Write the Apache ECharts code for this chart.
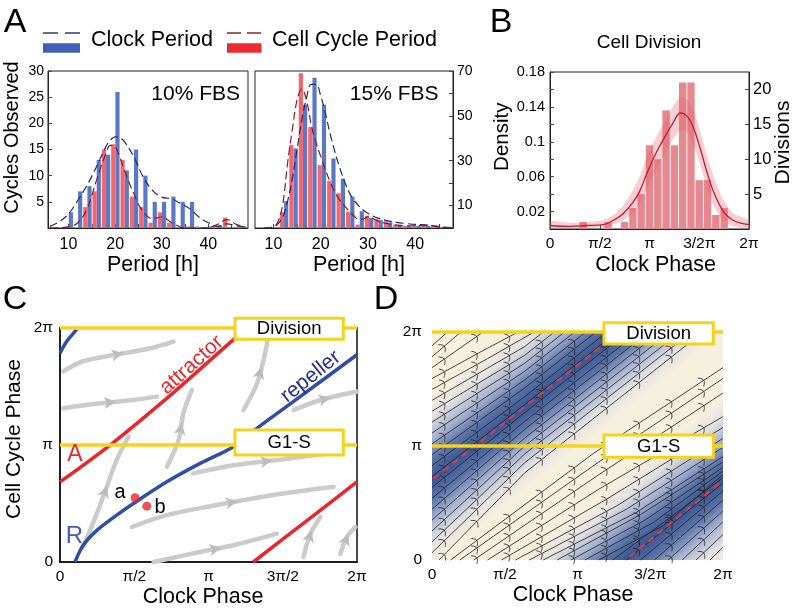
<!DOCTYPE html>
<html><head><meta charset="utf-8">
<script src="https://cdn.jsdelivr.net/npm/echarts@6/dist/echarts.min.js"></script>
<style>html,body{margin:0;padding:0;background:#fff}#c{width:796px;height:611px}</style>
</head><body><div id="c"></div>
<script>
// ================= DATA =================
const PI = Math.PI;
// Panel A, 10% FBS
const clockBins10 = [10.5,12.5,14.5,16.5,18.5,20.5,22.5,24.5,26.5,28.5,30.5,32.5,34.5,36.5,38.5,40.5,42.5];
const clock10     = [3,7,8,13,14,26,11,15,10,5,5,6,5,5,0,0.3,0.5];
const cycleBins10 = [9.6,11.6,13.6,15.6,17.6,19.6,21.6,23.6,25.6,27.6,29.6,31.6,33.6,35.6,37.6,39.6,41.6,43.6];
const cycle10     = [0.3,0,4,7,15,16,13,6,4,1,3,1,0,0.3,0.3,0,0,2];
const curveX10      = [6,8,10,12,14,16,18,19,20,21,22,24,26,28,30,32,34,36,38,40,42,44,46,48];
const clockCurve10  = [0.3,1.2,2.7,5.3,8.2,11.7,15.5,16.8,17.4,17.2,16.5,13.6,9.8,7.2,5.9,5.6,4.7,3.7,2.1,1.0,0.3,0.8,0.4,0.2];
const cycleCurve10  = [0,0.05,0.2,1,3.7,9.1,14.2,15.8,15.5,13.5,11,6.6,3.1,1.8,2.1,1.1,0.2,0,0,0.1,0.7,1.6,0.7,0.2];
// Panel A, 15% FBS
const clockBins15 = [12.7,14.7,16.7,18.7,20.7,22.7,24.7,26.7,28.7,30.7,32.7,34.7,36.7,38.7,40.7,42.7,44.7];
const clock15     = [12,35.5,55,67,55,31,22,14,7.5,4.5,3.5,2.5,1.5,1,1,1,0.5];
const cycleBins15 = [11.8,13.8,15.8,17.8,19.8,21.8,23.8,25.8,27.8,29.8,31.8,33.8,35.8,37.8,39.8,41.8,43.8];
const cycle15     = [7,37,69,45,28,21,15.5,7.3,1.5,5.5,4,3,1.5,1,1,1.5,0.5];
const curveX15     = [8,10,11,12,13,14,15,16,17,18,19,20,21,22,23,24,25,26,27,28,29,30,32,34,36,38,40,42,44,46,48];
const clockCurve15 = [0,0.5,2,5,12,22,35,48,58,64,64,59,51,42,34,27,21,16,12.5,10,8,6.5,4.5,3.3,2.5,2,1.6,1.4,1,0.4,0.2];
const cycleCurve15 = [0,0.5,3,11,29,44,57,62,57,46,38,32,26,20.5,16,12.5,10,7.5,5.5,4,4,5,3.2,2,1.3,1,1,1.2,0.8,0.3,0.1];
// Panel B
const divisionPhase  = [1.047,1.833,2.356,2.618,2.880,3.142,3.403,3.665,3.927,4.189,4.451,4.712,4.974,5.236,5.498];
const divisionCounts = [1,1,1,3,5,12,10,17,12,21,21,7,7,2,3];
const densityPhase = [0,0.63,1.16,1.68,2.0,2.31,2.63,2.84,3.05,3.36,3.68,3.89,4.12,4.31,4.52,4.73,4.94,5.15,5.46,5.78,6.28];
const densityMean  = [0.004,0.003,0.004,0.005,0.010,0.0175,0.031,0.044,0.063,0.088,0.109,0.122,0.133,0.130,0.117,0.094,0.067,0.044,0.021,0.010,0.005];
const densityUpper = [0.009,0.007,0.008,0.010,0.016,0.027,0.045,0.061,0.082,0.106,0.127,0.141,0.151,0.149,0.137,0.114,0.086,0.062,0.034,0.018,0.010];
const densityLower = [0.001,0.001,0.001,0.002,0.005,0.010,0.019,0.029,0.045,0.068,0.090,0.103,0.114,0.112,0.098,0.075,0.049,0.028,0.010,0.003,0.001];
// Tick labels
const countTicks10 = [5,10,15,20,25,30];
const countTicks15 = [10,30,50,70];
const periodTicks  = [10,20,30,40];
const densityTicks = [0.02,0.06,0.1,0.14,0.18];
const divisionTicks = [5,10,15,20];
const phaseTicks = [0, PI/2, PI, 1.5*PI, 2*PI];
const phaseLabelsBD = ['0','π/2','π','3/2π','2π'];
const phaseLabelsC  = ['0','π/2','π','3π/2','2π'];
const cellTicks = [0, PI, 2*PI];
const cellLabels = ['0','π','2π'];
// Panel C
const attractorC1 = [[0,2.15],[1.06,3.14],[2.4,4.55],[3.67,5.97],[3.97,6.283]];
const attractorC2 = [[4.09,0],[5.19,1.08],[6.283,2.15]];
const repellerC1 = [[0.318,0],[0.49,0.45],[0.78,0.85],[1.2,1.26],[1.553,1.571],[2.26,2.154],[2.965,2.648],[3.67,3.097],[4.165,3.59],[5.08,4.44],[6.283,5.565]];
const repellerC2 = [[0,5.61],[0.14,5.92],[0.353,6.24]];
const checkpointLevels = [PI, 2*PI];
const pointsAB = [[1.588,1.724],[1.836,1.5]];
const grayStreamsC = [
  [[0.07,5.12],[0.49,5.39],[1.2,5.57],[1.91,5.74],[2.4,5.92]],
  [[0.07,4.13],[0.85,4.26],[1.55,4.35],[2.05,4.44]],
  [[0.49,0.40],[0.78,1.30],[0.99,2.02],[1.2,2.74],[1.45,3.37]],
  [[2.26,2.56],[2.51,3.28],[2.61,3.99],[2.79,4.62]],
  [[3.88,4.08],[4.17,4.8],[4.34,5.61],[4.41,6.15]],
  [[2.82,2.38],[3.67,2.6],[4.73,2.76],[5.93,2.96]],
  [[1.52,0.94],[2.26,1.26],[3.32,1.53],[4.52,1.8],[5.79,2.02]],
  [[1.98,0],[2.96,0.27],[3.67,0.45],[4.59,0.76]],
  [[4.94,4.08],[5.51,4.35],[6.28,4.58]],
  [[5.15,0.13],[5.3,0.76],[5.51,1.21]],
  [[5.93,0.22],[6.07,0.67],[6.25,0.94]]
];
// Panel D
const attractorD1 = [[0.04,2.25],[3.66,5.89]];
const attractorD2 = [[4.27,0.09],[6.21,2.12]];
const bandHalfWidthD = 2.3;
const streamsD = [
  [[0,0.2],[2,2.68],[5.6,6.28]],[[0,0.5],[2,2.92],[5.36,6.28]],[[0,0.8],[2,3.14],[5.14,6.28]],
  [[0,1.1],[2,3.36],[4.92,6.28]],[[0,1.4],[2,3.6],[4.68,6.28]],[[0,1.7],[2,3.82],[4.46,6.28]],
  [[0,2.0],[2,4.06],[4.22,6.28]],[[0,2.3],[2,4.28],[4.0,6.28]],[[0,2.6],[2,4.5],[3.78,6.28]],
  [[0,2.9],[2,4.74],[3.54,6.28]],[[0,3.2],[2,4.96],[3.32,6.28]],[[0,3.5],[2,5.2],[3.08,6.28]],
  [[0,3.8],[2,5.42],[2.86,6.28]],[[0,4.1],[2,5.64],[2.64,6.28]],[[0,4.4],[2,5.88],[2.4,6.28]],
  [[0,4.7],[1.2,5.55],[2.2,6.28]],[[0,5.0],[1.0,5.7],[1.85,6.28]],[[0,5.3],[1.1,6.28]],
  [[0,5.6],[0.62,6.28]],[[0,5.9],[0.33,6.28]],
  [[0.15,0],[2,2.4],[5.85,6.28]],[[0.4,0],[3.5,2.95],[6.28,5.3]],[[0.6,0],[3.6,2.7],[6.28,5.0]],
  [[0.9,0],[3.6,2.35],[6.28,4.6]],[[1.2,0],[3.6,1.95],[6.28,3.95]],[[1.5,0],[3.8,1.7],[6.28,3.65]],
  [[1.8,0],[4.0,1.5],[6.28,3.35]],[[2.1,0],[4.2,1.4],[6.28,3.1]],[[2.4,0],[4.4,1.3],[6.28,2.85]],
  [[2.7,0],[4.5,1.25],[6.28,2.7]],[[3.0,0],[4.6,1.1],[6.28,2.55]],[[3.3,0],[4.8,1.05],[6.28,2.45]],
  [[3.6,0],[5.0,0.95],[6.28,2.35]],[[3.9,0],[5.1,1.13],[6.28,2.27]],[[4.2,0],[6.28,2.12]],
  [[4.5,0],[6.28,1.9]],[[4.8,0],[6.28,1.65]],[[5.1,0],[6.28,1.35]],[[5.4,0],[6.28,1.05]],
  [[5.7,0],[6.28,0.7]],[[6.0,0],[6.28,0.35]]
];

// ================= STYLE / HELPERS =================
const FONT = '"Liberation Sans", Arial, Helvetica, sans-serif';
const zip = (xs, ys) => xs.map((x, i) => [x, ys[i]]);
const labeler = (ticks, labels) => v => { let b = 0; ticks.forEach((t, i) => { if (Math.abs(t - v) < Math.abs(ticks[b] - v)) b = i; }); return labels[b]; };
const chevronCols = [0.25,0.95,1.65,2.35,3.05,3.75,4.45,5.15,5.85];
const YELLOW = '#f4d31c';
const creamD = '#f6f0de';

function clipPoly(pts, r) {
  const planes = [[0, r[0], 1], [0, r[2], -1], [1, r[1], 1], [1, r[3], -1]];
  let out = pts;
  for (const [ax, v, s] of planes) {
    const inp = out; out = [];
    for (let i = 0; i < inp.length; i++) {
      const A = inp[i], B = inp[(i + 1) % inp.length];
      const ina = (A[ax] - v) * s >= 0, inb = (B[ax] - v) * s >= 0;
      if (ina) out.push(A);
      if (ina !== inb) { const t = (v - A[ax]) / (B[ax] - A[ax]); out.push([A[0] + t * (B[0] - A[0]), A[1] + t * (B[1] - A[1])]); }
    }
    if (!out.length) break;
  }
  return out;
}
function pointAlong(pts, frac) {
  let total = 0; const seg = [];
  for (let i = 1; i < pts.length; i++) { const l = Math.hypot(pts[i][0]-pts[i-1][0], pts[i][1]-pts[i-1][1]); seg.push(l); total += l; }
  let target = total * frac;
  for (let i = 0; i < seg.length; i++) {
    if (target <= seg[i] || i === seg.length - 1) {
      const t = Math.min(1, target / seg[i]);
      const a = pts[i], b = pts[i+1];
      const dx = (b[0]-a[0]) / seg[i], dy = (b[1]-a[1]) / seg[i];
      return {p: [a[0] + t*(b[0]-a[0]), a[1] + t*(b[1]-a[1])], d: [dx, dy]};
    }
    target -= seg[i];
  }
}

const axisTxt = (size) => ({color: '#000', fontSize: size, fontFamily: FONT});

// ================= OPTION =================
const grids = [
  {left: 48, top: 71, width: 200, height: 157, show: true, borderColor: '#222', borderWidth: 1},
  {left: 255, top: 71, width: 198, height: 157, show: true, borderColor: '#222', borderWidth: 1},
  {left: 550, top: 72, width: 199, height: 157, show: true, borderColor: '#222', borderWidth: 1},
  {left: 60, top: 328, width: 297, height: 234, show: true, borderColor: '#111', borderWidth: 1.5},
  {left: 432, top: 332, width: 291, height: 228, show: true, borderWidth: 0, backgroundColor: creamD}
];
const noSplit = {show: false};
const xAxes = [
  {gridIndex: 0, type: 'value', min: 5.6, max: 48.5, splitLine: noSplit, axisLine: {lineStyle: {color: '#222'}},
   axisTick: {inside: true, length: 4, customValues: [10,15,20,25,30,35,40,45], lineStyle: {color: '#444'}},
   axisLabel: Object.assign({customValues: periodTicks, margin: 9}, axisTxt(16))},
  {gridIndex: 1, type: 'value', min: 6.1, max: 48, splitLine: noSplit, axisLine: {lineStyle: {color: '#222'}},
   axisTick: {inside: true, length: 4, customValues: [10,15,20,25,30,35,40,45], lineStyle: {color: '#444'}},
   axisLabel: Object.assign({customValues: periodTicks, margin: 9}, axisTxt(16))},
  {gridIndex: 2, type: 'value', min: 0, max: 2*PI, splitLine: noSplit, axisLine: {lineStyle: {color: '#222'}},
   axisTick: {inside: true, length: 4, customValues: phaseTicks, lineStyle: {color: '#444'}},
   axisLabel: Object.assign({customValues: phaseTicks, margin: 7, formatter: labeler(phaseTicks, phaseLabelsBD)}, axisTxt(15.5))},
  {gridIndex: 3, type: 'value', min: 0, max: 2*PI, splitLine: noSplit, axisLine: {lineStyle: {color: '#111', width: 1.5}},
   axisTick: {show: false},
   axisLabel: Object.assign({customValues: phaseTicks, margin: 7, formatter: labeler(phaseTicks, phaseLabelsC)}, axisTxt(15.5))},
  {gridIndex: 4, type: 'value', min: 0, max: 2*PI, splitLine: noSplit, axisLine: {show: false}, axisTick: {show: false},
   axisLabel: Object.assign({customValues: phaseTicks, margin: 7, formatter: labeler(phaseTicks, phaseLabelsBD)}, axisTxt(15.5))}
];
const yAxes = [
  {gridIndex: 0, type: 'value', min: 0, max: 30, splitLine: noSplit, axisLine: {lineStyle: {color: '#222'}},
   axisTick: {inside: true, length: 4, customValues: countTicks10, lineStyle: {color: '#444'}},
   axisLabel: Object.assign({customValues: countTicks10, margin: 4}, axisTxt(14))},
  {gridIndex: 1, type: 'value', position: 'right', min: 0, max: 70, splitLine: noSplit, axisLine: {lineStyle: {color: '#222'}},
   axisTick: {inside: true, length: 4, customValues: [10,20,30,40,50,60,70], lineStyle: {color: '#444'}},
   axisLabel: Object.assign({customValues: countTicks15, margin: 4}, axisTxt(14))},
  {gridIndex: 2, type: 'value', min: 0, max: 0.18, splitLine: noSplit, axisLine: {lineStyle: {color: '#222'}},
   axisTick: {inside: true, length: 4, customValues: [0.02,0.04,0.06,0.08,0.1,0.12,0.14,0.16,0.18], lineStyle: {color: '#444'}},
   axisLabel: Object.assign({customValues: densityTicks, margin: 5, formatter: v => String(+v.toFixed(2))}, axisTxt(14.5))},
  {gridIndex: 2, type: 'value', position: 'right', min: 0, max: 22.5, splitLine: noSplit, axisLine: {lineStyle: {color: '#222'}},
   axisTick: {inside: true, length: 4, customValues: divisionTicks, lineStyle: {color: '#444'}},
   axisLabel: Object.assign({customValues: divisionTicks, margin: 4}, axisTxt(16.5))},
  {gridIndex: 3, type: 'value', min: 0, max: 2*PI, splitLine: noSplit, axisLine: {lineStyle: {color: '#111', width: 1.5}}, axisTick: {show: false},
   axisLabel: Object.assign({customValues: cellTicks, margin: 7, formatter: labeler(cellTicks, cellLabels)}, axisTxt(15.5))},
  {gridIndex: 4, type: 'value', min: 0, max: 2*PI, splitLine: noSplit, axisLine: {show: false}, axisTick: {show: false},
   axisLabel: Object.assign({customValues: cellTicks, margin: 10, formatter: labeler(cellTicks, cellLabels)}, axisTxt(15.5))}
];

const BLUE_BAR = '#5c78c3', RED_BAR = '#f0676f', BLUE_CURVE = '#1d2a78', RED_CURVE = '#8a1a2c';
function barS(xi, yi, bins, vals, color, w) {
  return {type: 'bar', xAxisIndex: xi, yAxisIndex: yi, data: zip(bins, vals), barWidth: w, barGap: '-100%',
          itemStyle: {color: color}, z: 2, silent: true};
}
function curveS(xi, yi, xs, ys, color, dash, width) {
  return {type: 'line', xAxisIndex: xi, yAxisIndex: yi, data: zip(xs, ys), smooth: 0.4, symbol: 'none',
          lineStyle: {color: color, width: width || 1.2, type: dash || 'solid'}, z: 4, silent: true};
}
function polyS(xi, yi, pts, color, width, dash, z) {
  return {type: 'line', xAxisIndex: xi, yAxisIndex: yi, data: pts, smooth: 0.3, symbol: 'none',
          lineStyle: {color: color, width: width, type: dash || 'solid', cap: 'butt'}, z: z || 4, silent: true};
}

const series = [
  barS(0, 0, clockBins10, clock10, BLUE_BAR, 4.2),
  barS(0, 0, cycleBins10, cycle10, RED_BAR, 4.2),
  curveS(0, 0, curveX10, clockCurve10, BLUE_CURVE, [8, 4]),
  curveS(0, 0, curveX10, cycleCurve10, RED_CURVE, [8, 4]),
  barS(1, 1, clockBins15, clock15, BLUE_BAR, 4.2),
  barS(1, 1, cycleBins15, cycle15, RED_BAR, 4.2),
  curveS(1, 1, curveX15, clockCurve15, BLUE_CURVE, [8, 4]),
  curveS(1, 1, curveX15, cycleCurve15, RED_CURVE, [8, 4]),
  // Panel B
  {type: 'bar', xAxisIndex: 2, yAxisIndex: 3, data: zip(divisionPhase, divisionCounts), barWidth: 7.4,
   itemStyle: {color: '#e68890'}, z: 2, silent: true},
  {type: 'custom', xAxisIndex: 2, yAxisIndex: 2, data: [[densityPhase[0], densityMean[0]]], z: 3, silent: true,
   renderItem: (params, api) => {
     const up = densityPhase.map((x, i) => api.coord([x, densityUpper[i]]));
     const lo = densityPhase.map((x, i) => api.coord([x, densityLower[i]])).reverse();
     return {type: 'polygon', shape: {points: up.concat(lo), smooth: 0.2}, style: {fill: 'rgba(226,96,108,0.30)'}};
   }},
  curveS(2, 2, densityPhase, densityMean, '#c21d2e', 'solid', 1.3),
  // Panel C
  {type: 'custom', xAxisIndex: 3, yAxisIndex: 4, data: grayStreamsC.map(l => l[0]), z: 2, silent: true,
   renderItem: (params, api) => {
     const pts = grayStreamsC[params.dataIndex].map(p => api.coord(p));
     const a = pointAlong(pts, 0.5); const d = a.d, n = [-d[1], d[0]];
     const tip = [a.p[0] + d[0]*6, a.p[1] + d[1]*6];
     const b1 = [a.p[0] - d[0]*6 + n[0]*6, a.p[1] - d[1]*6 + n[1]*6];
     const b2 = [a.p[0] - d[0]*6 - n[0]*6, a.p[1] - d[1]*6 - n[1]*6];
     const mid = [a.p[0] - d[0]*3, a.p[1] - d[1]*3];
     return {type: 'group', children: [
       {type: 'polyline', shape: {points: pts, smooth: 0.35}, style: {stroke: '#cbcbcb', lineWidth: 4.5, fill: null, lineCap: 'round'}},
       {type: 'polygon', shape: {points: [tip, b1, mid, b2]}, style: {fill: '#bdbdbd'}}
     ]};
   }},
  polyS(3, 4, attractorC1, '#e8262c', 3.5),
  polyS(3, 4, attractorC2, '#e8262c', 3.5),
  polyS(3, 4, repellerC1, '#2f4ea4', 3.5),
  polyS(3, 4, repellerC2, '#2f4ea4', 3.5),
  {type: 'line', xAxisIndex: 3, yAxisIndex: 4, data: [[0, checkpointLevels[0]], [2*PI, checkpointLevels[0]]], symbol: 'none', clip: false,
   lineStyle: {color: YELLOW, width: 3.5}, z: 6, silent: true},
  {type: 'line', xAxisIndex: 3, yAxisIndex: 4, data: [[0, checkpointLevels[1]], [2*PI, checkpointLevels[1]]], symbol: 'none', clip: false,
   lineStyle: {color: YELLOW, width: 3.5}, z: 6, silent: true},
  {type: 'scatter', xAxisIndex: 3, yAxisIndex: 4, data: pointsAB, symbolSize: 9, itemStyle: {color: '#e8262c'}, z: 7, silent: true},
  // Panel D
  {type: 'custom', xAxisIndex: 4, yAxisIndex: 5, data: [attractorD1[0]], z: 1, silent: true,
   renderItem: (params, api) => {
     const cs = params.coordSys;
     const rect = [cs.x, cs.y, cs.x + cs.width, cs.y + cs.height];
     const children = [];
     [attractorD1, attractorD2].forEach(line => {
       const p0 = api.coord(line[0]), p1 = api.coord(line[line.length - 1]);
       let dx = p1[0] - p0[0], dy = p1[1] - p0[1]; const L = Math.hypot(dx, dy); dx /= L; dy /= L;
       const nx = -dy, ny = dx;
       const hv = Math.abs(api.coord([0, bandHalfWidthD])[1] - api.coord([0, 0])[1]);
       const hp = hv * Math.abs(dx);
       const c = [(p0[0] + p1[0]) / 2, (p0[1] + p1[1]) / 2];
       const E = 700;
       const poly = [
         [c[0] - dx*E + nx*hp, c[1] - dy*E + ny*hp], [c[0] + dx*E + nx*hp, c[1] + dy*E + ny*hp],
         [c[0] + dx*E - nx*hp, c[1] + dy*E - ny*hp], [c[0] - dx*E - nx*hp, c[1] - dy*E - ny*hp]];
       const cl = clipPoly(poly, rect);
       if (cl.length < 3) return;
       const grad = new echarts.graphic.LinearGradient(c[0] + nx*hp, c[1] + ny*hp, c[0] - nx*hp, c[1] - ny*hp, [
         {offset: 0, color: creamD}, {offset: 0.12, color: '#e4e2e2'}, {offset: 0.26, color: '#a4b0cf'},
         {offset: 0.38, color: '#5a73a8'}, {offset: 0.5, color: '#3a5794'}, {offset: 0.62, color: '#5a73a8'},
         {offset: 0.74, color: '#a4b0cf'}, {offset: 0.88, color: '#e4e2e2'}, {offset: 1, color: creamD}], true);
       children.push({type: 'polygon', shape: {points: cl}, style: {fill: grad}});
     });
     return {type: 'group', children: children};
   }},
  {type: 'custom', xAxisIndex: 4, yAxisIndex: 5, data: streamsD.map(l => l[0]), z: 2, silent: true,
   renderItem: (params, api) => {
     const line = streamsD[params.dataIndex];
     const pts = line.map(p => api.coord(p));
     const children = [{type: 'polyline', shape: {points: pts}, style: {stroke: '#262626', lineWidth: 0.85, fill: null}}];
     chevronCols.forEach(xc => {
       for (let i = 1; i < line.length; i++) {
         const a = line[i-1], b = line[i];
         if (xc > a[0] && xc <= b[0]) {
           const t = (xc - a[0]) / (b[0] - a[0]);
           const p = api.coord([xc, a[1] + t*(b[1] - a[1])]);
           if (p[1] < params.coordSys.y + 4) break;
           const pa = pts[i-1], pb = pts[i];
           let dx = pb[0] - pa[0], dy = pb[1] - pa[1]; const L = Math.hypot(dx, dy); dx /= L; dy /= L;
           const nx = -dy, ny = dx;
           children.push({type: 'polyline', shape: {points: [
             [p[0] - dx*2.5 + nx*5, p[1] - dy*2.5 + ny*5], [p[0] + dx*1, p[1] + dy*1], [p[0] - dx*2.5 - nx*5, p[1] - dy*2.5 - ny*5]], smooth: 0.5},
             style: {stroke: '#262626', lineWidth: 0.85, fill: null}});
           break;
         }
       }
     });
     return {type: 'group', children: children};
   }},
  polyS(4, 5, attractorD1, '#d2404f', 2.2, [7, 5], 3),
  polyS(4, 5, attractorD2, '#d2404f', 2.2, [7, 5], 3),
  {type: 'line', xAxisIndex: 4, yAxisIndex: 5, data: [[0, checkpointLevels[0]], [2*PI, checkpointLevels[0]]], symbol: 'none', clip: false,
   lineStyle: {color: YELLOW, width: 3.5}, z: 6, silent: true},
  {type: 'line', xAxisIndex: 4, yAxisIndex: 5, data: [[0, checkpointLevels[1]], [2*PI, checkpointLevels[1]]], symbol: 'none', clip: false,
   lineStyle: {color: YELLOW, width: 3.5}, z: 6, silent: true}
];

// ================= GRAPHIC (text & annotation layout) =================
function T(text, x, y, size, opts) {
  opts = opts || {};
  return {type: 'text', x: x, y: y, rotation: opts.rot || 0, z: 120, silent: true,
          style: {text: text, fontSize: size, fontFamily: opts.family || FONT, fill: opts.color || '#000',
                  align: opts.align || 'center', verticalAlign: 'middle'}};
}
function box(x, y, w, h, label, size) {
  return [
    {type: 'rect', shape: {x: x, y: y, width: w, height: h}, z: 110, silent: true,
     style: {fill: '#fff', stroke: YELLOW, lineWidth: 3}},
    T(label, x + w/2, y + h/2 + 0.5, size)
  ];
}
const graphic = [
  T('A', 15, 22.5, 34), T('B', 501, 22.5, 34), T('C', 15, 300, 34), T('D', 386, 300, 34),
  {type: 'line', shape: {x1: 43, y1: 33, x2: 80, y2: 33}, z: 120, style: {stroke: '#2a3a8c', lineWidth: 1.5, lineDash: [15, 7]}},
  {type: 'rect', shape: {x: 43, y: 43.3, width: 37, height: 9.4}, z: 120, style: {fill: '#4060b8'}},
  T('Clock Period', 91, 40.5, 21.5, {align: 'left'}),
  {type: 'line', shape: {x1: 227, y1: 33, x2: 261.5, y2: 33}, z: 120, style: {stroke: '#8c2030', lineWidth: 1.5, lineDash: [14, 6]}},
  {type: 'rect', shape: {x: 227, y: 43.3, width: 34.5, height: 9.4}, z: 120, style: {fill: '#ec2a30'}},
  T('Cell Cycle Period', 272, 40.5, 21.5, {align: 'left'}),
  T('10% FBS', 240, 94.5, 21, {align: 'right'}),
  T('15% FBS', 438.5, 94.5, 21, {align: 'right'}),
  T('Cycles Observed', 12.5, 137.5, 20, {rot: PI/2}),
  T('Period [h]', 153, 265, 21.5),
  T('Period [h]', 359, 265, 21.5),
  T('Cell Division', 649, 43, 19),
  T('Density', 502.7, 136.7, 20.5, {rot: PI/2}),
  T('Divisions', 783.5, 142.5, 21, {rot: PI/2}),
  T('Clock Phase', 655.5, 265, 21.5),
  T('Clock Phase', 203, 597, 21.5),
  T('Cell Cycle Phase', 14, 439, 21, {rot: PI/2}),
  T('Clock Phase', 573, 595, 21.5),
  T('attractor', 191.7, 365, 21, {rot: 0.73, color: '#e8262c'}),
  T('repeller', 310.7, 376.7, 21, {rot: 0.675, color: '#262f8c'}),
  T('A', 75, 455, 23, {color: '#e8262c'}),
  T('R', 74.5, 536, 24, {color: '#3f5fb5'}),
  T('a', 120, 492.5, 20), T('b', 160, 507, 20)
].concat(
  box(235, 318.3, 108.3, 21, 'Division', 18.5),
  box(235, 430, 108.3, 25, 'G1-S', 18.5),
  box(604, 322.7, 109.3, 21.3, 'Division', 18.5),
  box(604, 435, 109.3, 22.3, 'G1-S', 18.5)
);

const chart = echarts.init(document.getElementById('c'), null, {renderer: 'canvas'});
chart.setOption({
  animation: false,
  backgroundColor: '#fff',
  grid: grids, xAxis: xAxes, yAxis: yAxes, series: series, graphic: graphic
});
</script></body></html>
